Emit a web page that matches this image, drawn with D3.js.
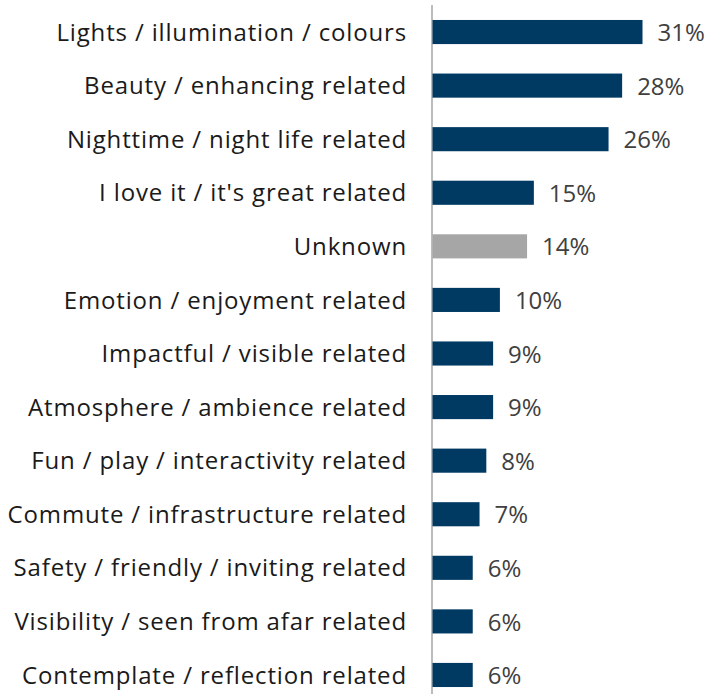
<!DOCTYPE html>
<html><head><meta charset="utf-8">
<script src="https://cdn.jsdelivr.net/npm/d3@7"></script>
<style>html,body{margin:0;padding:0;background:#fff;}</style>
</head><body><svg id="c" width="708" height="694"></svg>
<script>
const categories = ["Lights / illumination / colours","Beauty / enhancing related","Nighttime / night life related","I love it / it's great related","Unknown","Emotion / enjoyment related","Impactful / visible related","Atmosphere / ambience related","Fun / play / interactivity related","Commute / infrastructure related","Safety / friendly / inviting related","Visibility / seen from afar related","Contemplate / reflection related"];
const values = [31,28,26,15,14,10,9,9,8,7,6,6,6];
const highlight = ["Unknown"];

const svg = d3.select("#c");
const x0 = 432;
const x = d3.scaleLinear().domain([0,31]).range([x0, 642.5]);
const y = d3.scaleBand().domain(categories).range([-9.5, 716.5]).paddingInner(0.55).paddingOuter(0.55);

svg.append("line").attr("x1",x0).attr("x2",x0).attr("y1",5).attr("y2",694)
  .attr("stroke","#a6a6a6").attr("stroke-width",1.5);

svg.selectAll("rect.bar").data(categories).join("rect").attr("class","bar")
  .attr("x",x0+0.5).attr("y",d=>y(d))
  .attr("width",(d,i)=>x(values[i])-x0-0.5).attr("height",y.bandwidth())
  .attr("fill",d=>highlight.includes(d)?"#a6a6a6":"#003a63");

svg.selectAll("text.cat").data(categories).join("text").attr("class","cat")
  .attr("x",407).attr("y",d=>y(d)+y.bandwidth()/2).attr("dy","0.36em")
  .attr("text-anchor","end").attr("font-family","'Open Sans', sans-serif").attr("font-size",24)
  .attr("letter-spacing","0.85px")
  .attr("fill","#1a1a1a").text(d=>d);

svg.selectAll("text.val").data(categories).join("text").attr("class","val")
  .attr("x",(d,i)=>x(values[i])+15).attr("y",d=>y(d)+y.bandwidth()/2).attr("dy","0.38em")
  .attr("font-family","'Open Sans', sans-serif").attr("font-size",24)
  .attr("fill","#404040").text((d,i)=>values[i]+"%");
</script></body></html>
